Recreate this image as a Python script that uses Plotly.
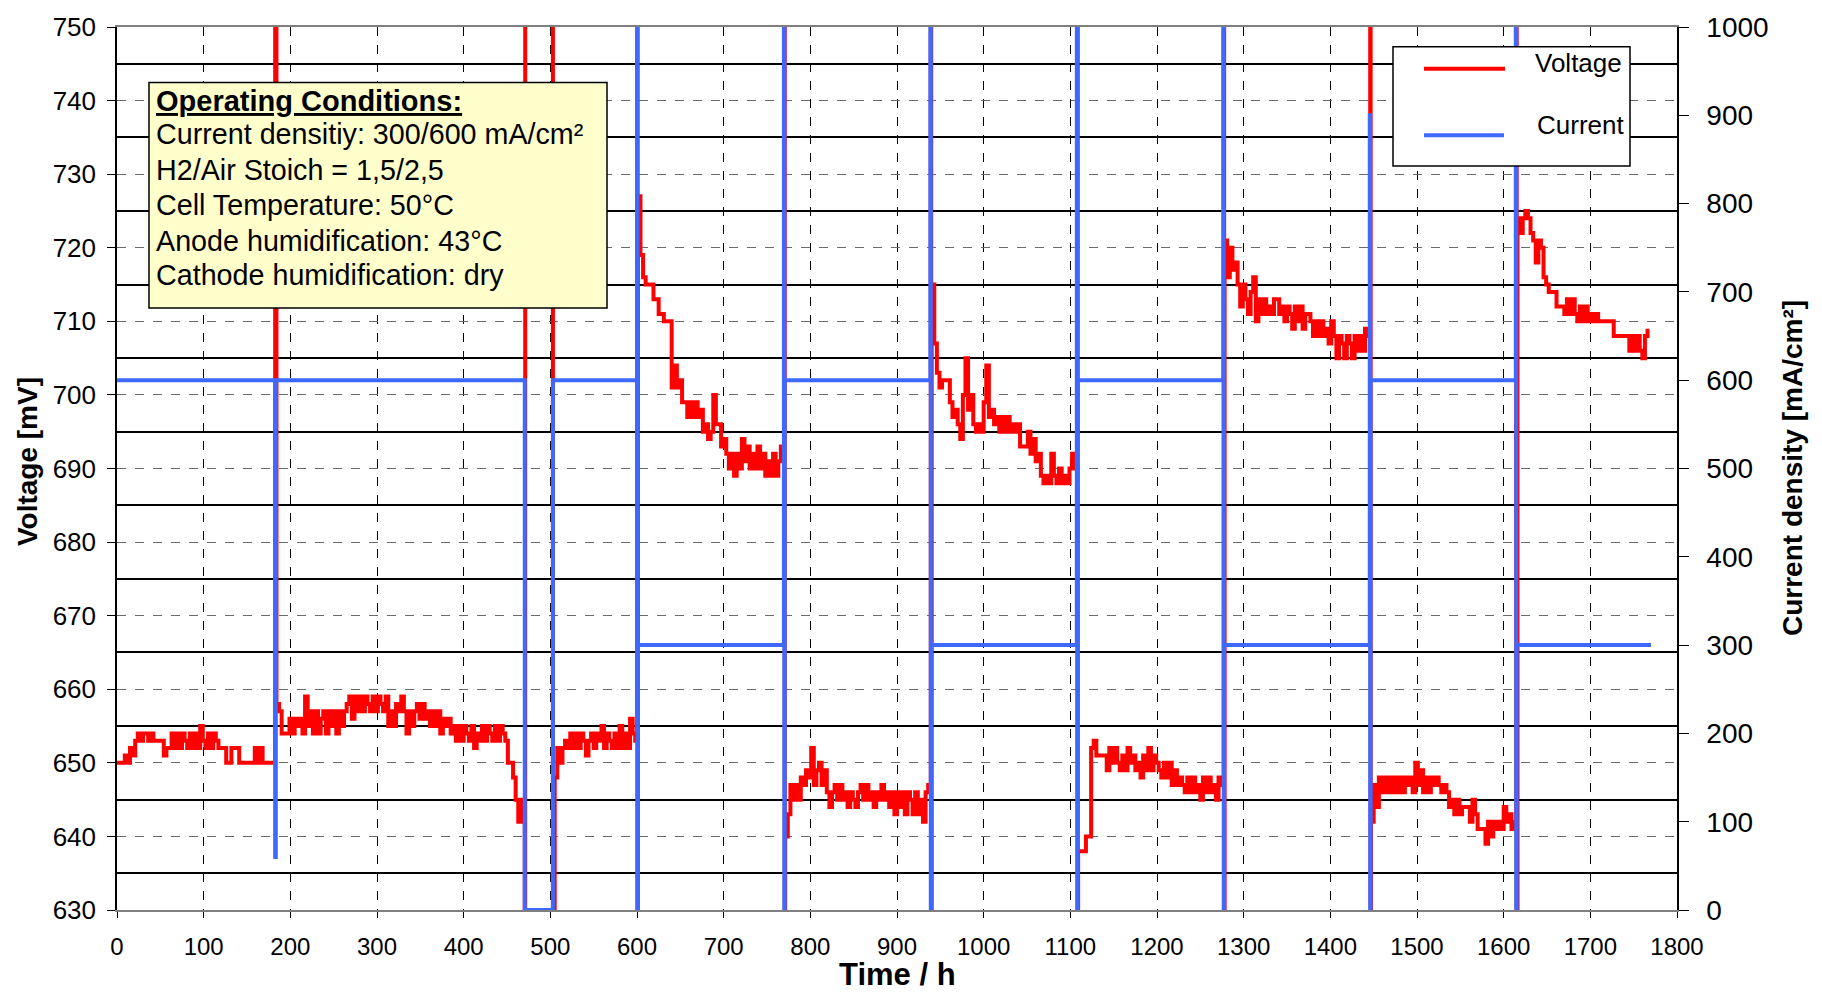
import plotly.graph_objects as go

# ---------------- data ----------------
STEP_H = 3.0  # sampling interval of the typed voltage readings (h)

seg_starts = [0, 184, 505, 601, 771, 940, 1109, 1278, 1447, 1616]

volt_seg1 = [650,650,650,651,650,652,651,653,654,653,
             654,654,653,654,653,653,653,653,651,652,
             652,654,652,654,652,654,653,652,654,652,
             654,652,655,653,652,654,652,654,653,652,
             652,652,650,650,652,652,652,650,650,650,
             650,650,650,652,650,652,650,650,650,650,
             650]
volt_seg2 = [658,657,654,654,654,656,654,656,655,656,
             654,659,655,657,654,657,654,656,657,654,
             657,655,657,654,657,655,657,658,659,656,
             659,657,659,657,659,658,657,659,657,659,
             658,657,659,655,657,655,658,657,659,657,
             654,657,655,657,658,656,658,656,657,655,
             657,655,657,654,656,655,656,654,655,653,
             655,653,655,654,653,655,652,654,653,655,
             653,655,654,653,655,653,655,654,653,650,
             650,648,645,642,645,642]
volt_seg3 = [648,652,650,652,653,652,654,652,654,652,
             654,653,651,653,654,652,654,653,655,652,
             654,653,652,654,652,655,652,654,652,656,
             654,653]
volt_seg4 = [727,719,716,715,715,715,713,713,711,711,
             710,710,710,701,704,701,702,699,699,697,
             699,697,699,697,698,695,696,694,695,700,
             696,696,693,694,692,690,692,689,692,690,
             694,691,693,690,692,690,693,690,692,689,
             691,689,692,689,691,693]
volt_seg5 = [640,643,647,645,647,645,648,647,649,648,
             652,647,649,650,647,649,646,644,646,647,
             645,647,645,646,644,646,645,644,646,647,
             645,647,645,646,644,646,645,647,645,646,
             644,646,643,646,644,646,643,646,645,643,
             646,643,645,642,646,647]
volt_seg6 = [715,707,703,701,702,702,702,699,697,698,
             696,694,700,705,698,700,696,695,696,695,
             699,704,697,698,696,697,695,697,695,697,
             695,696,695,696,693,693,693,695,692,694,
             691,692,689,688,689,688,692,689,688,690,
             688,689,688,690,692,690]
volt_seg7 = [638,638,638,640,640,652,653,651,651,651,
             651,649,652,650,652,650,649,651,649,652,
             650,651,649,650,648,651,649,652,649,651,
             650,649,648,650,648,650,647,649,647,648,
             647,646,648,646,648,646,647,645,648,646,
             648,646,647,645,648,647]
volt_seg8 = [721,716,720,717,718,715,712,715,713,711,
             714,716,710,713,711,713,711,712,711,713,
             713,711,712,710,712,711,709,712,710,712,
             709,711,711,710,708,710,708,710,708,709,
             707,710,708,705,708,707,705,708,707,705,
             708,706,708,706,709,708]
volt_seg9 = [642,647,644,648,646,648,646,648,646,648,
             646,648,646,648,647,648,646,650,647,649,
             646,648,646,648,647,648,647,646,647,646,
             644,645,643,645,643,644,644,644,642,645,
             643,641,641,641,639,642,640,642,641,642,
             641,644,642,643,641,642]
volt_seg10 = [724,722,724,725,724,722,721,718,721,720,
              716,715,714,714,714,712,712,712,711,713,
              711,713,711,710,712,710,712,710,711,710,
              711,710,710,710,710,710,710,708,708,708,
              708,708,708,706,708,706,708,706,705,708,
              709]
volt_segments = [volt_seg1, volt_seg2, volt_seg3, volt_seg4, volt_seg5,
                 volt_seg6, volt_seg7, volt_seg8, volt_seg9, volt_seg10]

# voltage excursions at the load changes (open circuit / polarisation curve), mV
spike_t = [182.5, 470.5, 471, 503, 600.2, 600.6, 770, 770.5, 939, 939.5,
           1108, 1108.5, 1277, 1277.5, 1446, 1446.5, 1614.5, 1615]
spike_v = [950, 560, 950, 560, 950, 560, 950, 560, 950, 560,
           950, 560, 950, 560, 950, 560, 950, 560]

# current density profile, mA/cm²
cur_t = [0, 182.5, 183.2, 470.5, 503, 600, 600.5, 601, 769.5, 770, 770.5,
         938.5, 939, 939.5, 1107.5, 1108, 1108.5, 1276.5, 1277, 1277.5,
         1445.5, 1446, 1446.5, 1614, 1614.5, 1615, 1770]
cur_v = [600, 60, 600, 0, 600, 1000, 0, 300, 1000, 0, 600,
         1000, 0, 300, 1000, 0, 600, 1000, 0, 300,
         900, 0, 600, 1000, 0, 300, 300]

x_ticks = list(range(0, 1801, 100))
v_ticks = list(range(630, 751, 10))
c_ticks = list(range(0, 1001, 100))

box_lines = ["<b><u>Operating Conditions:</u></b>",
             "Current densitiy: 300/600 mA/cm²",
             "H2/Air Stoich = 1,5/2,5",
             "Cell Temperature: 50°C",
             "Anode humidification: 43°C",
             "Cathode humidification: dry"]

# ---------------- build series ----------------
pts = []
for start, vals in zip(seg_starts, volt_segments):
    for i, v in enumerate(vals):
        pts.append((start + STEP_H * i, v))
pts += list(zip(spike_t, spike_v))
pts.sort(key=lambda p: p[0])
volt_t = [p[0] for p in pts]
volt_v = [p[1] for p in pts]

RED = "#FF0000"
BLUE = "#3D69FF"
FONT = "Liberation Sans, Arial, sans-serif"

fig = go.Figure()
fig.add_trace(go.Scatter(x=volt_t, y=volt_v, mode="lines", name="Voltage",
                         line=dict(color=RED, width=4, shape="hv"), yaxis="y"))
fig.add_trace(go.Scatter(x=cur_t, y=cur_v, mode="lines", name="Current",
                         line=dict(color=BLUE, width=4, shape="hv"), yaxis="y2"))

# plot area in px: left 117, right 1677, top 21, bottom 910
L, R, T, B = 117, 1677, 21, 910
def px(x):
    return (x - L) / (R - L)
def py(y):
    return 1 - (y - T) / (B - T)

shapes = []
annotations = []

# text box
shapes.append(dict(type="rect", xref="paper", yref="paper", layer="above",
                   x0=px(149), x1=px(607), y0=py(304), y1=py(77),
                   fillcolor="#FFFFCC", line=dict(color="black", width=1.5)))
line_y = [95, 129, 165, 200, 236, 271]
for k, (txt, yy) in enumerate(zip(box_lines, line_y)):
    annotations.append(dict(xref="paper", yref="paper", x=px(154), y=py(yy),
                            xanchor="left", yanchor="middle", text=txt,
                            showarrow=False,
                            font=dict(size=29 if k == 0 else 28.7, family=FONT, color="black")))

# legend
shapes.append(dict(type="rect", xref="paper", yref="paper", layer="above",
                   x0=px(1393), x1=px(1630), y0=py(161), y1=py(41),
                   fillcolor="white", line=dict(color="black", width=1.5)))
shapes.append(dict(type="line", xref="paper", yref="paper", layer="above",
                   x0=px(1424), x1=px(1505), y0=py(63), y1=py(63),
                   line=dict(color=RED, width=4)))
shapes.append(dict(type="line", xref="paper", yref="paper", layer="above",
                   x0=px(1424), x1=px(1504), y0=py(130), y1=py(130),
                   line=dict(color=BLUE, width=4)))
annotations.append(dict(xref="paper", yref="paper", x=px(1624), y=py(57),
                        xanchor="right", yanchor="middle", text="Voltage",
                        showarrow=False, font=dict(size=26, family=FONT, color="black")))
annotations.append(dict(xref="paper", yref="paper", x=px(1626), y=py(120),
                        xanchor="right", yanchor="middle", text="Current",
                        showarrow=False, font=dict(size=26, family=FONT, color="black")))

# axis titles
annotations.append(dict(xref="paper", yref="paper", x=px(27), y=py(459),
                        xanchor="center", yanchor="middle", textangle=-90,
                        text="<b>Voltage [mV]</b>", showarrow=False,
                        font=dict(size=28, family=FONT, color="black")))
annotations.append(dict(xref="paper", yref="paper", x=px(1792), y=py(465),
                        xanchor="center", yanchor="middle", textangle=-90,
                        text="<b>Current density [mA/cm²]</b>", showarrow=False,
                        font=dict(size=28, family=FONT, color="black")))
annotations.append(dict(xref="paper", yref="paper", x=px(897), y=py(975),
                        xanchor="center", yanchor="middle",
                        text="<b>Time / h</b>", showarrow=False,
                        font=dict(size=31, family=FONT, color="black")))

fig.update_layout(
    width=1822, height=993,
    margin=dict(l=L, r=1822 - R, t=T, b=993 - B, pad=0),
    plot_bgcolor="white", paper_bgcolor="white",
    showlegend=False,
    font=dict(family=FONT, color="black"),
    shapes=shapes, annotations=annotations,
    xaxis=dict(range=[0, 1800], tickvals=x_ticks, showgrid=True,
               gridcolor="black", griddash="dash", gridwidth=1,
               ticks="outside", ticklen=6, tickcolor="black",
               tickfont=dict(size=24, family=FONT), ticklabelstandoff=8,
               showline=True, linecolor="#7f7f7f", linewidth=2, mirror=True,
               zeroline=False),
    yaxis=dict(range=[630, 750], tickvals=v_ticks, showgrid=True,
               gridcolor="#6a6a6a", griddash="dash", gridwidth=1.2,
               minor=dict(tick0=635, dtick=10, showgrid=True, griddash="solid",
                          gridcolor="black", gridwidth=2, ticks=""),
               ticks="outside", ticklen=8, tickcolor="black",
               tickfont=dict(size=26, family=FONT), ticklabelstandoff=6,
               showline=True, linecolor="black", linewidth=1.5,
               zeroline=False),
    yaxis2=dict(range=[0, 1000], tickvals=c_ticks, overlaying="y", side="right",
                showgrid=False, ticks="outside", ticklen=10, tickcolor="black",
                tickfont=dict(size=28, family=FONT), ticklabelstandoff=12,
                showline=True, linecolor="black", linewidth=1.5,
                zeroline=False),
)

fig.write_html("out.html")
